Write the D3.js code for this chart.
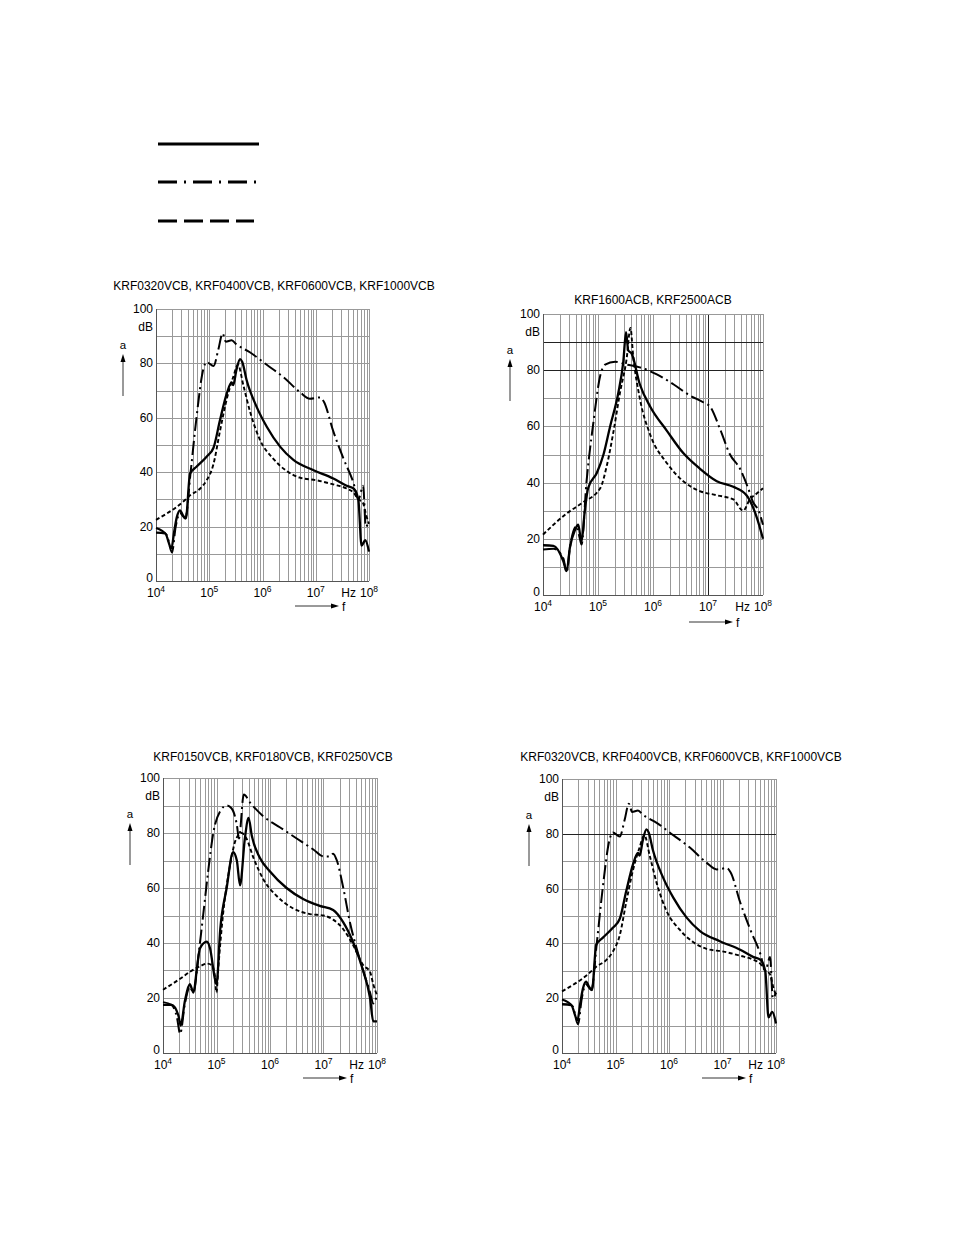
<!DOCTYPE html>
<html><head><meta charset="utf-8">
<script src="https://cdn.jsdelivr.net/npm/d3@7"></script>
<style>body{margin:0;background:#fff}svg{display:block}text{font-family:"Liberation Sans",Arial,sans-serif;fill:#000}</style>
</head><body>
<script>
// ---- DATA (frequency as log10 exponent, attenuation in dB) ----
const titles = [
  "KRF0320VCB, KRF0400VCB, KRF0600VCB, KRF1000VCB",
  "KRF1600ACB, KRF2500ACB",
  "KRF0150VCB, KRF0180VCB, KRF0250VCB",
  "KRF0320VCB, KRF0400VCB, KRF0600VCB, KRF1000VCB"
];
const yTicks = [0, 20, 40, 60, 80, 100];
const xTickExps = [4, 5, 6, 7, 8];

const vcbLargeSolid = [[4.0,17.8],[4.17,17.5],[4.29,12],[4.34,18],[4.39,23.4],[4.45,26],[4.51,24],[4.56,23],[4.64,39.5],[4.76,42],[4.95,45.7],[5.08,49],[5.2,59],[5.33,69],[5.42,73],[5.45,72],[5.51,77.6],[5.58,81.6],[5.62,80.5],[5.70,74],[5.89,64],[6.08,56.7],[6.33,49.4],[6.58,44.5],[6.95,40.8],[7.33,37.7],[7.58,35],[7.71,34],[7.8,29.8],[7.86,13],[7.93,15],[8.0,10.8]];
const vcbLargeDashDot = [[4.0,19.5],[4.2,17],[4.3,10.5],[4.37,20],[4.45,25],[4.55,23],[4.65,40],[4.76,60],[4.89,78],[4.95,80.5],[5.08,79],[5.17,85],[5.25,91],[5.31,88],[5.42,88.5],[5.51,87],[5.77,84],[6.08,79.5],[6.39,75],[6.70,69.5],[6.89,67],[7.08,67.5],[7.15,66],[7.33,55],[7.52,45],[7.71,36],[7.8,30],[7.89,35],[7.94,20],[8.0,22]];
const vcbLargeDotted = [[4.0,22.5],[4.5,29],[4.64,31.5],[4.83,34],[4.95,37],[5.08,43],[5.2,55],[5.33,67],[5.45,75],[5.54,79.5],[5.64,72],[5.77,62],[5.95,52],[6.2,45],[6.45,40.5],[6.70,38],[7.02,37],[7.33,35.5],[7.58,34],[7.71,32.5],[7.8,30],[7.88,29],[7.95,24],[8.0,21]];

const acbSolid = [[4.0,17.7],[4.19,17.5],[4.37,12],[4.43,8.5],[4.49,17],[4.58,23],[4.64,25],[4.70,19],[4.76,30],[4.82,38],[4.98,43.5],[5.1,50],[5.22,60],[5.37,72],[5.46,83],[5.51,93.5],[5.55,87],[5.61,86],[5.76,75],[5.95,67],[6.25,58.5],[6.55,50.5],[6.85,45],[7.16,40.5],[7.46,38.5],[7.70,35.5],[7.88,28],[8.0,20]];
const acbDashDot = [[4.0,16.2],[4.19,16.5],[4.37,13],[4.43,8],[4.49,17],[4.61,24.5],[4.67,20],[4.70,18],[4.79,40],[4.92,62],[5.04,78],[5.13,82],[5.31,83],[5.52,82],[5.76,81],[6.07,78.5],[6.37,75],[6.67,71],[6.92,68.5],[7.04,67],[7.22,59],[7.40,50],[7.58,45],[7.73,38],[7.82,33],[7.92,30],[8.0,25]];
const acbDotted = [[4.0,21.5],[4.43,29],[4.73,33],[5.04,38],[5.16,46],[5.28,58],[5.40,72],[5.52,84],[5.59,95],[5.64,85],[5.76,70],[5.95,57],[6.25,47],[6.55,40.5],[6.85,37],[7.16,35.5],[7.46,34],[7.64,30],[7.76,34],[7.88,36],[8.0,38]];

const vcbSmallSolid = [[4.0,17.5],[4.16,17.5],[4.29,13.5],[4.33,10],[4.41,19],[4.50,25],[4.57,22],[4.63,30],[4.69,38],[4.82,40.5],[4.88,38],[4.97,27],[5.0,25],[5.07,45],[5.19,60],[5.31,73],[5.38,70],[5.44,61],[5.53,78],[5.60,85.5],[5.66,79],[5.81,71],[6.0,66],[6.31,60],[6.62,56],[6.93,53.5],[7.18,52],[7.37,47.5],[7.56,40],[7.74,30],[7.87,20],[7.93,11.5],[8.0,11.5]];
const vcbSmallDashDot = [[4.0,18.5],[4.16,17.5],[4.26,13],[4.32,7],[4.41,18],[4.50,24],[4.57,22],[4.66,35],[4.75,50],[4.85,67],[4.94,80],[5.07,88],[5.19,90],[5.28,89],[5.38,83],[5.42,78],[5.51,94],[5.63,91],[5.88,86],[6.19,82],[6.50,78],[6.81,74],[7.0,71.5],[7.12,71.5],[7.18,72.5],[7.25,70],[7.37,60],[7.50,47],[7.62,38],[7.74,30],[7.87,22],[7.93,18],[8.0,21]];
const vcbSmallDotted = [[4.0,23],[4.32,27],[4.5,29.5],[4.69,31.5],[4.82,32.5],[4.91,32],[4.97,28],[5.0,22],[5.03,30],[5.12,50],[5.25,68],[5.37,78],[5.47,80],[5.56,78],[5.69,71],[5.88,63],[6.13,57],[6.44,52.5],[6.75,50.5],[7.0,50],[7.18,48.5],[7.37,45],[7.56,39],[7.74,32],[7.87,29.5],[7.93,25],[8.0,21]];

const panelSeries = [
  [vcbLargeSolid, vcbLargeDashDot, vcbLargeDotted],
  [acbSolid, acbDashDot, acbDotted],
  [vcbSmallSolid, vcbSmallDashDot, vcbSmallDotted],
  [vcbLargeSolid, vcbLargeDashDot, vcbLargeDotted]
];

// ---- LAYOUT ----
const panels = [
  {x0:156, x1:369, yTop:309, yBot:581, titleX:274, titleY:290, fOff:25, darkV:[], darkH:[]},
  {x0:543, x1:763, yTop:314, yBot:595, titleX:653, titleY:304, fOff:27, darkV:[1e7], darkH:[80,90]},
  {x0:163, x1:377, yTop:778, yBot:1053, titleX:273, titleY:761, fOff:25, darkV:[], darkH:[]},
  {x0:562, x1:776, yTop:779, yBot:1053, titleX:681, titleY:761, fOff:25, darkV:[], darkH:[80]}
];
const styles = [
  {w:2.3, dash:null},
  {w:2.0, dash:"14,4,2,4"},
  {w:1.9, dash:"4,2.5"}
];
const FS = 12;

const svg = d3.select("body").append("svg").attr("width",954).attr("height",1235);

// Legend
const legend = [
  {y:144, x2:259, dash:null},
  {y:182, x2:256, dash:"19,7,2,7"},
  {y:221, x2:254, dash:"19,7"}
];
legend.forEach(l=>{
  svg.append("line").attr("x1",158).attr("x2",l.x2).attr("y1",l.y).attr("y2",l.y)
    .attr("stroke","#000").attr("stroke-width",3).attr("stroke-dasharray",l.dash);
});

panels.forEach((p,i)=>{
  const x = d3.scaleLog().domain([1e4,1e8]).range([p.x0,p.x1]);
  const y = d3.scaleLinear().domain([0,100]).range([p.yBot,p.yTop]);
  const g = svg.append("g");

  g.append("text").attr("x",p.titleX).attr("y",p.titleY).attr("text-anchor","middle")
    .attr("font-size",FS).text(titles[i]);

  // grid
  const vTicks = [];
  for(let e=4;e<8;e++) for(let m=1;m<10;m++) vTicks.push(m*Math.pow(10,e));
  vTicks.push(1e8);
  g.selectAll(".v").data(vTicks).enter().append("line")
    .attr("x1",d=>Math.round(x(d))+0.5).attr("x2",d=>Math.round(x(d))+0.5)
    .attr("y1",p.yTop).attr("y2",p.yBot)
    .attr("stroke",d=>p.darkV.includes(d)?"#222":"#999").attr("stroke-width",1);
  const hTicks = d3.range(0,101,10);
  g.selectAll(".h").data(hTicks).enter().append("line")
    .attr("x1",p.x0).attr("x2",p.x1)
    .attr("y1",d=>Math.round(y(d))+0.5).attr("y2",d=>Math.round(y(d))+0.5)
    .attr("stroke",d=>p.darkH.includes(d)?"#222":"#999").attr("stroke-width",1);
  g.append("line").attr("x1",p.x0).attr("x2",p.x1).attr("y1",p.yBot+0.5).attr("y2",p.yBot+0.5).attr("stroke","#555");
  g.append("line").attr("x1",p.x0+0.5).attr("x2",p.x0+0.5).attr("y1",p.yTop).attr("y2",p.yBot).attr("stroke","#555");

  // y labels
  g.selectAll(".yl").data(yTicks).enter().append("text")
    .attr("x",p.x0-3).attr("y",d=>d===0?y(d)+1:y(d)+4).attr("text-anchor","end").attr("font-size",FS)
    .text(d=>d);
  g.append("text").attr("x",p.x0-3).attr("y",y(100)+22).attr("text-anchor","end").attr("font-size",FS).text("dB");
  // "a" with arrow
  const ax = p.x0-33;
  g.append("text").attr("x",ax).attr("y",y(100)+40).attr("text-anchor","middle").attr("font-size",11.5).text("a");
  g.append("line").attr("x1",ax).attr("x2",ax).attr("y1",y(100)+87).attr("y2",y(100)+50).attr("stroke","#000").attr("stroke-width",0.8);
  g.append("path").attr("d",`M${ax-2.5},${y(100)+53}L${ax},${y(100)+45}L${ax+2.5},${y(100)+53}Z`).attr("fill","#000");

  // x labels
  xTickExps.forEach(e=>{
    const t = g.append("text").attr("x",x(Math.pow(10,e))).attr("y",p.yBot+16).attr("text-anchor","middle").attr("font-size",FS);
    t.append("tspan").text("10");
    t.append("tspan").attr("dy",-5).attr("font-size",8.5).text(e);
  });
  g.append("text").attr("x",p.x1-13).attr("y",p.yBot+16).attr("text-anchor","end").attr("font-size",FS).text("Hz");
  // f arrow
  const fy = p.yBot+p.fOff;
  g.append("line").attr("x1",p.x1-74).attr("x2",p.x1-36).attr("y1",fy).attr("y2",fy).attr("stroke","#000").attr("stroke-width",0.8);
  g.append("path").attr("d",`M${p.x1-38},${fy-2.5}L${p.x1-30},${fy}L${p.x1-38},${fy+2.5}Z`).attr("fill","#000");
  g.append("text").attr("x",p.x1-27).attr("y",fy+5).attr("font-size",FS).text("f");

  // curves
  const line = d3.line().x(d=>x(Math.pow(10,d[0]))).y(d=>y(d[1])).curve(d3.curveMonotoneX);
  panelSeries[i].forEach((s,k)=>{
    g.append("path").attr("d",line(s)).attr("fill","none").attr("stroke","#000")
      .attr("stroke-width",styles[k].w).attr("stroke-dasharray",styles[k].dash)
      .attr("stroke-linejoin","round");
  });
});
</script>
</body></html>
